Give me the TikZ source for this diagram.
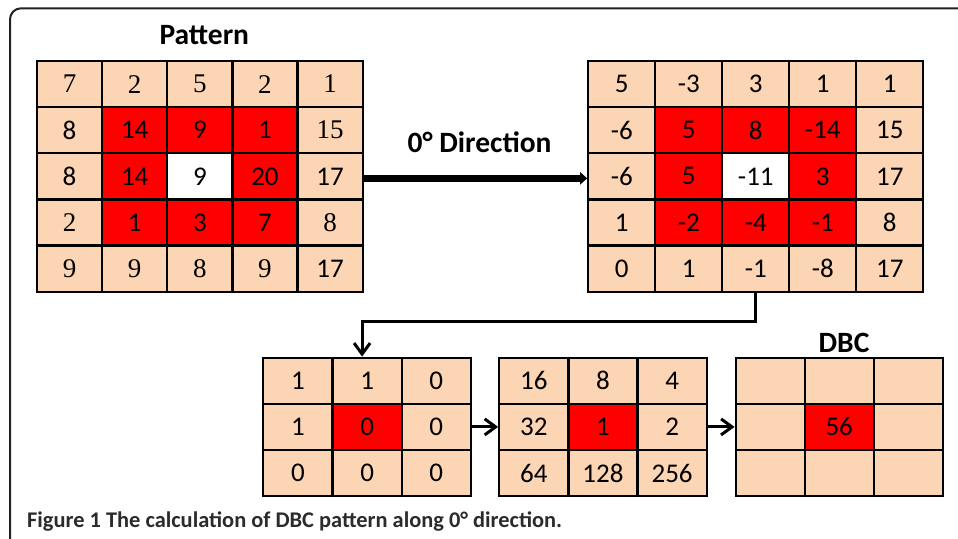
\documentclass[tikz,border=0pt]{standalone}
\usepackage{fontspec}
\setmainfont{Carlito}
\newfontfamily\tms{Liberation Serif}
\usetikzlibrary{arrows.meta}
\definecolor{peach}{HTML}{FCD5B4}
\definecolor{framegray}{HTML}{222222}
\definecolor{capgray}{HTML}{2B2B2B}
\tikzset{
  cell/.style={draw=black, line width=2.2pt, inner sep=0pt, minimum height=46.1pt,
    font=\fontsize{27}{27}\selectfont, text=black},
  lbl/.style={font=\bfseries\fontsize{29.5}{29.5}\selectfont, inner sep=0pt},
  bigarrow/.style={line width=6.5pt, -{Triangle[length=7pt,width=12pt]}},
  conn/.style={line width=3pt, -{Straight Barb[length=11pt,width=16pt,line width=3pt]}},
}
% name, x0, y0, cell width, size (3 or 5), rows
\newcommand\mygrid[6]{%
  \foreach \row [count=\r] in {#6}{
    \foreach \v [count=\c] in \row {
      \def\fillc{peach}
      \ifnum#5=5
        \ifnum\r>1 \ifnum\r<5 \ifnum\c>1 \ifnum\c<5 \def\fillc{red}\fi\fi\fi\fi
        \ifnum\r=3 \ifnum\c=3 \def\fillc{white}\fi\fi
      \else
        \ifnum\r=2 \ifnum\c=2 \def\fillc{red}\fi\fi
      \fi
      \pgfmathsetmacro\cx{#2+#4*(\c-0.5)}
      \pgfmathsetmacro\cy{#3+46.14*(\r-0.5)}
      \node[cell, fill=\fillc, minimum width=#4pt] (#1-\r-\c) at (\cx,\cy) {\v};
    }
  }
}
\begin{document}
\begin{tikzpicture}[x=1pt,y=-1pt]
\useasboundingbox (0,0) rectangle (958,538);
% frame
\draw[framegray, line width=2pt, rounded corners=11pt] (958,8.3) -- (10,8.3) -- (10,540);

\mygrid{p}{37}{61}{65.14}{5}{{\tms 7,\tms 2,\tms 5,\tms 2,\tms 1},{8,14,9,1,\tms 15},{8,14,9,20,17},{\tms 2,1,3,7,\tms 8},{\tms 9,\tms 9,\tms 8,\tms 9,17}}
\mygrid{d}{588.3}{61}{67}{5}{{5,-3,3,1,1},{-6,5,8,-14,15},{-6,5,-11,3,17},{1,-2,-4,-1,8},{0,1,-1,-8,17}}
\mygrid{b}{263.3}{357.7}{69.2}{3}{{1,1,0},{1,0,0},{0,0,0}}
\mygrid{w}{499.3}{357.7}{69.13}{3}{{16,8,4},{32,1,2},{64,128,256}}
\mygrid{r}{735.7}{357.7}{69}{3}{{\relax,\relax,\relax},{\relax,56,\relax},{\relax,\relax,\relax}}

\node[lbl] (pattern) at (204.3,35) {Pattern};
\node[lbl] (dir) at (479.6,142) {0° Direction};
\node[lbl] (dbc) at (844,343) {DBC};

\draw[bigarrow] ([yshift=-2pt]p-3-5.east) -- ([yshift=-2pt]d-3-1.west);
\draw[conn] (d-5-3.south) -- ++(0,28.5) -| ([xshift=-5pt]b-1-2.north);
\draw[conn] (b-2-3.east) -- (w-2-1.west);
\draw[conn] (w-2-3.east) -- (r-2-1.west);

\node[anchor=base west, text=capgray, inner sep=0pt, font=\bfseries\fontsize{22.4}{23}\selectfont] (cap) at (27,527)
  {Figure 1 The calculation of DBC pattern along 0° direction.};
\end{tikzpicture}
\end{document}
